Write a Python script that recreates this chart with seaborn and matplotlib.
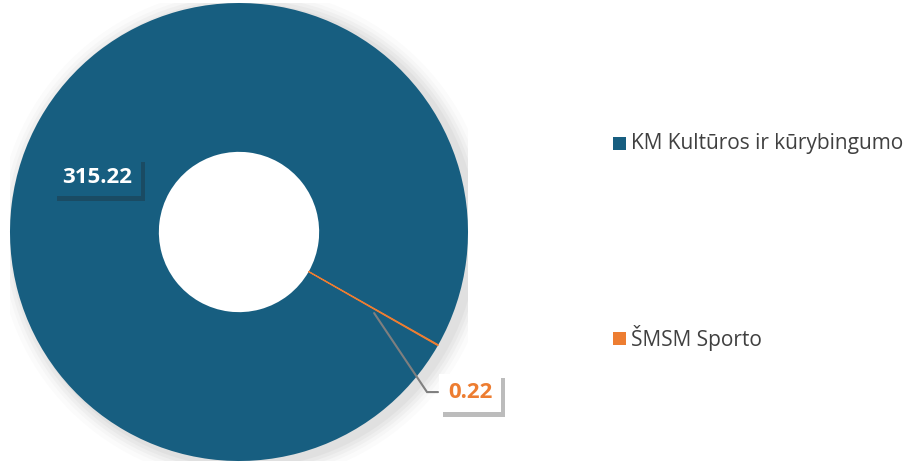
import matplotlib
matplotlib.use("Agg")
import matplotlib.pyplot as plt
import seaborn as sns
from matplotlib.patches import Circle, Rectangle
import matplotlib.patheffects as pe

sns.set_theme(style="white")
plt.rcParams['font.family'] = ['Open Sans', 'DejaVu Sans']

categories = ["KM Kultūros ir kūrybingumo", "ŠMSM Sporto"]
values = [315.22, 0.22]
value_labels = ["315.22", "0.22"]
colors = ["#175E80", "#ED7D31"]

W, H = 907, 465
fig = plt.figure(figsize=(W / 100, H / 100), dpi=100)
fig.patch.set_facecolor("white")

cx, cy, R = 239, 232, 229
ax = fig.add_axes([(cx - R) / W, (H - cy - R) / H, 2 * R / W, 2 * R / H])
ax.set_axis_off()

# soft shadow behind the ring
for a, r in [(0.03, 1.08), (0.04, 1.06), (0.05, 1.045), (0.06, 1.03), (0.07, 1.015)]:
    ax.add_patch(Circle((0.025, -0.015), r, color="#808080", alpha=a, lw=0, zorder=0))
ax.add_patch(Circle((0, 0), 0.36, color="white", lw=0, zorder=1))

wedges, _ = ax.pie(values, colors=colors, startangle=-29.75, counterclock=False,
                   radius=1, wedgeprops=dict(width=0.65, linewidth=0))
for w in wedges:
    w.set_zorder(2)
wedges[1].set_edgecolor(colors[1])
wedges[1].set_linewidth(0.8)

ax.set_xlim(-1, 1)
ax.set_ylim(-1, 1)
ax.set_aspect("equal")

shadow = [pe.withSimplePatchShadow(offset=(3, -3), shadow_rgbFace="#222222", alpha=0.3),
          pe.Normal()]

t1 = ax.text(-0.62, 0.24, value_labels[0], color="white", fontsize=16, fontweight="bold",
             ha="center", va="center", zorder=5,
             bbox=dict(boxstyle="square,pad=0.4", fc=colors[0], ec="none"))
t1.get_bbox_patch().set_path_effects(shadow)

ax.plot([0.59, 0.821, 0.869], [-0.354, -0.699, -0.699], color="#7F7F7F", lw=1.5, zorder=4,
        solid_joinstyle="miter")
t2 = ax.text(1.009, -0.703, value_labels[1], color=colors[1], fontsize=16, fontweight="bold",
             ha="center", va="center", zorder=5, clip_on=False,
             bbox=dict(boxstyle="square,pad=0.4", fc="white", ec="none"))
t2.get_bbox_patch().set_path_effects(shadow)

# legend
leg_y = [143, 338]
for cat, col, y in zip(categories, colors, leg_y):
    fig.add_artist(Rectangle((613 / W, (H - y - 6.5) / H), 13 / W, 13 / H,
                             transform=fig.transFigure, fc=col, ec="none"))
    fig.text(631 / W, (H - y) / H, cat, fontsize=15, color="#404040",
             ha="left", va="center")

fig.savefig("out.png", dpi=100, facecolor="white")
